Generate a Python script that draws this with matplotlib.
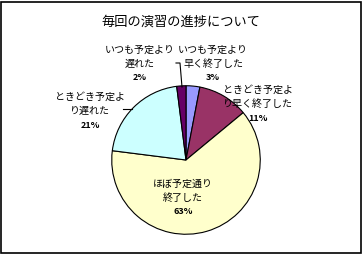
import matplotlib.pyplot as plt
from matplotlib.patches import Rectangle

plt.rcParams['font.family'] = ['Noto Sans CJK JP', 'DejaVu Sans']

# pie data, clockwise from 12 o'clock
labels = ['いつも予定より\n早く終了した', 'ときどき予定よ\nり早く終了した', 'ほぼ予定通り\n終了した',
          'ときどき予定よ\nり遅れた', 'いつも予定より\n遅れた']
values = [3, 11, 63, 21, 2]
colors = ['#9999FF', '#993366', '#FFFFCC', '#CCFFFF', '#660066']

# label positions in pixels (x centre, y of first line)
label_pos = [(213, 50), (258, 90), (183, 184), (90, 97), (140, 50)]

W, H = 362, 254
fig = plt.figure(figsize=(W / 100, H / 100), dpi=100)

# pie centre and radius in pixels
cx, cy, r = 186, 160, 75
ax = fig.add_axes([(cx - r) / W, (H - cy - r) / H, 2 * r / W, 2 * r / H])
ax.pie(values, colors=colors, startangle=90, counterclock=False,
       wedgeprops=dict(edgecolor='black', linewidth=0.8))
ax.set_xlim(-1.01, 1.01)
ax.set_ylim(-1.01, 1.01)
ax.set_aspect('auto')
ax.axis('off')


def px(x, y):
    return x / W, 1 - y / H


fig.text(*px(181, 22), '毎回の演習の進捗について', ha='center', va='center', fontsize=9.5)

for lab, v, (x, y) in zip(labels, values, label_pos):
    fig.text(*px(x, y + 7), lab, ha='center', va='center', fontsize=7.2, linespacing=1.45)
    fig.text(*px(x, y + 28), f'{v}%', ha='center', va='center', fontsize=6.5, fontweight='bold')

# leader lines
fig.add_artist(plt.Line2D([176 / W, 180 / W, 182 / W], [1 - 63 / H, 1 - 63 / H, 1 - 87 / H],
                          color='black', linewidth=0.8))
fig.add_artist(plt.Line2D([123 / W, 132 / W], [1 - 109 / H, 1 - 109 / H], color='black', linewidth=0.8))

fig.add_artist(Rectangle((0.5 / W, 1.5 / H), (W - 2) / W, (H - 3) / H, transform=fig.transFigure,
                         fill=False, edgecolor='black', linewidth=1.2))

fig.savefig('out.png', dpi=100)
